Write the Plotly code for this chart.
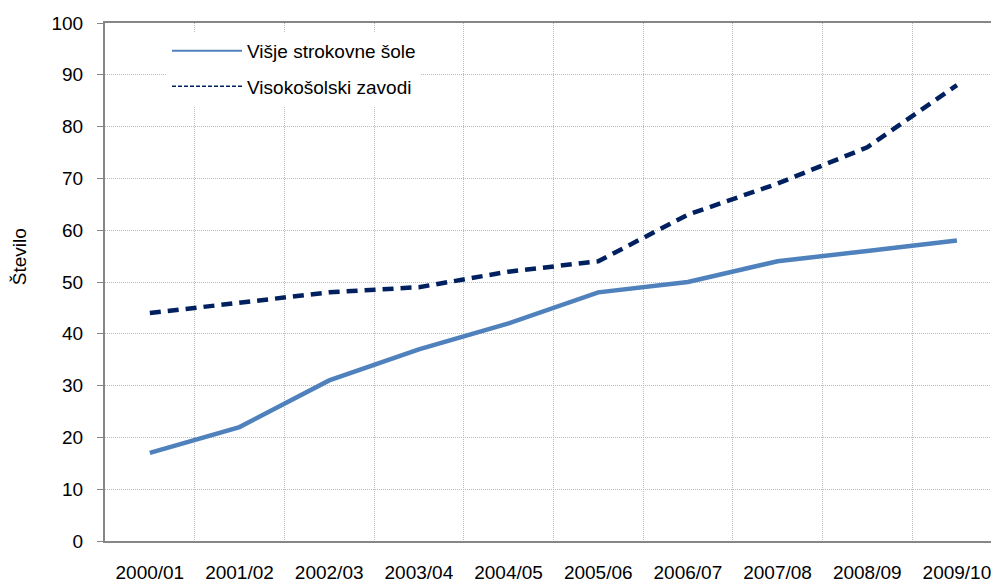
import plotly.graph_objects as go

categories = ["2000/01", "2001/02", "2002/03", "2003/04", "2004/05",
              "2005/06", "2006/07", "2007/08", "2008/09", "2009/10"]
visje_strokovne = [17, 22, 31, 37, 42, 48, 50, 54, 56, 58]
visokosolski = [44, 46, 48, 49, 52, 54, 63, 69, 76, 88]
series_names = ["Višje strokovne šole", "Visokošolski zavodi"]
y_ticks = list(range(0, 101, 10))

FONT = "Liberation Sans, Arial, sans-serif"
C1 = "#4F81BD"
C2 = "#002060"
GRID = "#BDBDBD"
xpos = list(range(len(categories)))

fig = go.Figure()
fig.add_trace(go.Scatter(x=xpos, y=visje_strokovne, mode="lines",
                         line=dict(color=C1, width=4.5), showlegend=False))
fig.add_trace(go.Scatter(x=xpos, y=visokosolski, mode="lines",
                         line=dict(color=C2, width=4.5, dash="11px,7px"), showlegend=False))
# legend entries (thin samples as in reference)
fig.add_trace(go.Scatter(x=[None], y=[None], mode="lines", name=series_names[0],
                         legendgroup="a", line=dict(color=C1, width=2)))
fig.add_trace(go.Scatter(x=[None], y=[None], mode="lines", name=series_names[1],
                         legendgroup="b", line=dict(color=C2, width=1.5, dash="4px,2px")))

fig.update_layout(
    width=991, height=583,
    margin=dict(l=105, r=0, t=23, b=42, autoexpand=False),
    paper_bgcolor="white", plot_bgcolor="white",
    font=dict(family=FONT, size=19, color="#000000"),
    legend=dict(x=0.07, y=0.983, xanchor="left", yanchor="top",
                bgcolor="white", borderwidth=0, tracegroupgap=8,
                itemwidth=70, font=dict(size=19)),
    annotations=[dict(text="Število", xref="paper", yref="paper",
                      x=-0.097, y=0.548, textangle=-90, showarrow=False,
                      xanchor="center", yanchor="middle", font=dict(size=19))],
)
fig.update_xaxes(
    range=[-0.5, 9.38], tickmode="array", tickvals=xpos, ticktext=categories,
    showgrid=False, showline=True, linecolor="#868686", linewidth=2,
    mirror=True, ticks="", ticklabelstandoff=13, zeroline=False,
    ticklabeloverflow="allow", automargin=False,
    minor=dict(tickmode="array", tickvals=[i + 0.5 for i in xpos[:-1]],
               showgrid=True, gridcolor=GRID, griddash="1px,1px", gridwidth=1, ticks=""),
)
fig.update_yaxes(
    range=[0, 100], tickmode="array", tickvals=y_ticks,
    showgrid=True, gridcolor=GRID, griddash="1px,1px", gridwidth=1,
    showline=True, linecolor="#868686", linewidth=2,
    ticks="outside", ticklen=6, tickcolor="#868686", tickwidth=1,
    ticklabelstandoff=10, zeroline=False, automargin=False,
)
fig.write_html("out.html", config={"displayModeBar": False},
               post_script="document.body.style.margin='0';document.body.style.overflow='hidden';")
